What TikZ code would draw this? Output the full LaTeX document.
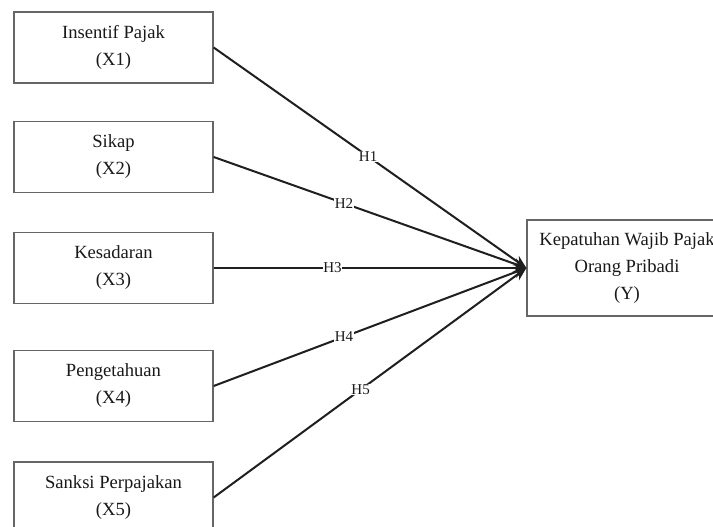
\documentclass[tikz,border=0pt]{standalone}
\usepackage{fontspec}
\setmainfont{Liberation Serif}
\usetikzlibrary{arrows.meta}
\begin{document}
\begin{tikzpicture}[x=1pt,y=-1pt,
  varbox/.style={draw=black!60,line width=1.3pt,fill=white,minimum width=199pt,minimum height=71pt,
    align=center,inner sep=0pt,font=\fontsize{18.6}{27}\selectfont,text=black!90},
  conn/.style={draw=black!88,line width=2pt,-{Stealth[length=13pt,width=11pt]}},
  hlab/.style={fill=white,inner sep=0.6pt,font=\fontsize{15}{15}\selectfont,text=black!90}]
\useasboundingbox (0,0) rectangle (713,527);
\clip (0,0) rectangle (713,527);
\fill[white] (0,0) rectangle (713,527);
\node[varbox] (x1) at (113.5,47.5) {Insentif Pajak\\(X1)};
\node[varbox] (x2) at (113.5,157) {Sikap\\(X2)};
\node[varbox] (x3) at (113.5,268) {Kesadaran\\(X3)};
\node[varbox] (x4) at (113.5,386) {Pengetahuan\\(X4)};
\node[varbox] (x5) at (113.5,497.5) {Sanksi Perpajakan\\(X5)};
\node[varbox,minimum width=200pt,minimum height=96pt] (y) at (627,268) {Kepatuhan Wajib Pajak\\Orang Pribadi\\(Y)};
\coordinate (tip) at (y.west);
\draw[conn] (x1.east) -- node[hlab,pos=0.494] (h1) {H1} (tip);
\draw[conn] (x2.east) -- node[hlab,pos=0.417] (h2) {H2} (tip);
\draw[conn] (x3.east) -- node[hlab,pos=0.38] (h3) {H3} (tip);
\draw[conn] (x4.east) -- node[hlab,pos=0.417] (h4) {H4} (tip);
\draw[conn] (x5.east) -- node[hlab,pos=0.47] (h5) {H5} (tip);
\end{tikzpicture}
\end{document}
